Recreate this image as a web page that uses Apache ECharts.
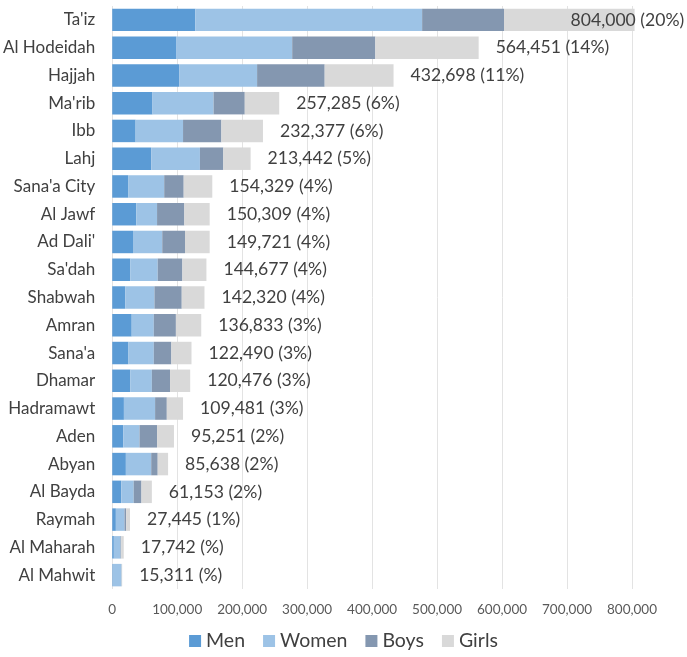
<!DOCTYPE html>
<html>
<head>
<meta charset="utf-8">
<script src="https://cdn.jsdelivr.net/npm/echarts@6/dist/echarts.min.js"></script>
<style>
html,body{margin:0;padding:0;background:#fff;}
#chart{width:687px;height:657px;}
</style>
</head>
<body>
<div id="chart"></div>
<script>
const categories = ["Ta'iz","Al Hodeidah","Hajjah","Ma'rib","Ibb","Lahj","Sana'a City","Al Jawf","Ad Dali'","Sa'dah","Shabwah","Amran","Sana'a","Dhamar","Hadramawt","Aden","Abyan","Al Bayda","Raymah","Al Maharah","Al Mahwit"];
const men   = [128000, 99000,103000,62000,36000,60000,25000,37000,32000,28000,20000,30000,25000,28000,18000,17000,21000,14000,5600,2500,800];
const women = [349000,178000,120000,94000,73000,75000,55000,32000,45000,42000,45000,34000,39000,33000,48000,25000,39000,19000,13300,10300,13500];
const boys  = [126000,128000,104000,48000,59000,36000,30000,42000,35000,38000,42000,34000,27000,28000,18000,27000,10000,12000,2500,1000,300];
const girls = [201000,159000,106000,53000,64000,42000,44000,39000,38000,37000,35000,39000,31000,31000,25000,26000,16000,16000,6000,3900,700];
const totals = [804000,564451,432698,257285,232377,213442,154329,150309,149721,144677,142320,136833,122490,120476,109481,95251,85638,61153,27445,17742,15311];
const shares = ["20","14","11","6","6","5","4","4","4","4","4","3","3","3","3","2","2","2","1","",""];
const xTicks = [0,100000,200000,300000,400000,500000,600000,700000,800000];

const FONT = 'Lato';
const fmt = n => n.toLocaleString('en-US');
const chart = echarts.init(document.getElementById('chart'));

function mk(name, data, color, withLabel) {
  const s = {
    name, type: 'bar', stack: 'total', data: data.slice(), barCategoryGap: '19%',
    itemStyle: { color }, clip: false, emphasis: { disabled: true }
  };
  if (withLabel) {
    s.data = data.map((v, i) => {
      const d = { value: v };
      if (i === 0) d.label = { position: 'right', distance: 0, offset: [-64, 0] };
      return d;
    });
    s.label = {
      show: true, position: 'right', distance: 17,
      fontFamily: FONT, fontSize: 17.6, color: '#404040',
      formatter: p => fmt(totals[p.dataIndex]) + ' (' + shares[p.dataIndex] + '%)'
    };
  }
  return s;
}

chart.setOption({
  animation: false,
  textStyle: { fontFamily: FONT },
  grid: { left: 112, right: 55, top: 6, bottom: 68, containLabel: false },
  xAxis: {
    type: 'value', min: xTicks[0], max: xTicks[xTicks.length - 1], interval: xTicks[1] - xTicks[0],
    axisLine: { show: false }, axisTick: { show: false },
    splitLine: { show: true, lineStyle: { color: '#e3e3e3', width: 1 } },
    axisLabel: { fontFamily: FONT, fontSize: 13.5, color: '#595959', margin: 14, formatter: v => fmt(v) }
  },
  yAxis: {
    type: 'category', data: categories, inverse: true,
    axisLine: { show: false }, axisTick: { show: false },
    axisLabel: { fontFamily: FONT, fontSize: 17, color: '#404040', margin: 17 }
  },
  legend: {
    bottom: 1, left: 'center', itemWidth: 12, itemHeight: 12, itemGap: 18,
    icon: 'rect', textStyle: { fontFamily: FONT, fontSize: 19.5, color: '#404040' },
    data: ['Men','Women','Boys','Girls']
  },
  series: [
    mk('Men', men, '#5B9BD5', false),
    mk('Women', women, '#9DC3E6', false),
    mk('Boys', boys, '#8497B0', false),
    mk('Girls', girls, '#D9D9D9', true)
  ]
});
</script>
</body>
</html>
